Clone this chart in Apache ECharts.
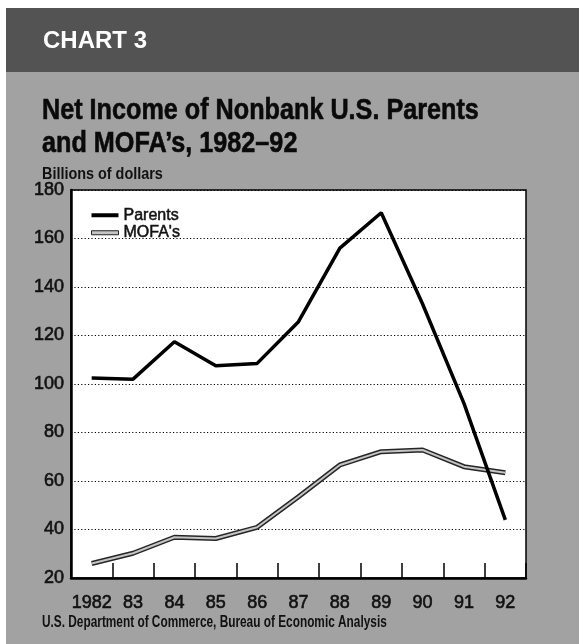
<!DOCTYPE html>
<html>
<head>
<meta charset="utf-8">
<script src="https://cdn.jsdelivr.net/npm/echarts@6/dist/echarts.min.js"></script>
<style>
html,body{margin:0;padding:0;background:#fff;}
#chart{width:579px;height:644px;}
</style>
</head>
<body>
<div id="chart"></div>
<script>
// ---- data ----
var categories = ['1982','83','84','85','86','87','88','89','90','91','92'];
var parents = [102.5, 102, 117.4, 107.5, 108.5, 125.7, 156, 170.6, 133, 92, 44];
var mofas   = [26, 30.2, 36.8, 36.3, 40.9, 53.5, 66.6, 72.1, 72.8, 65.9, 63.4];
var yTicks  = [20, 40, 60, 80, 100, 120, 140, 160, 180];

var FONT = 'Arial, "Liberation Sans", Helvetica, sans-serif';
var chart = echarts.init(document.getElementById('chart'), null, {renderer:'canvas'});

chart.setOption({
  animation: false,
  backgroundColor: '#ffffff',
  graphic: [
    {type:'rect', z:-10, shape:{x:6, y:8, width:573, height:636}, style:{fill:'#a2a2a2'}},
    {type:'rect', z:-9, shape:{x:6, y:8, width:573, height:64}, style:{fill:'#535353'}},
    {type:'text', z:5, x:43, y:41, style:{text:'CHART 3', fill:'#ffffff', font:'bold 24px ' + FONT, verticalAlign:'middle'}},
    {type:'text', z:5, x:42, y:111, scaleX:0.84, style:{text:'Net Income of Nonbank U.S. Parents', fill:'#0a0a0a', font:'bold 30px ' + FONT, verticalAlign:'middle', stroke:'#0a0a0a', lineWidth:0.6}},
    {type:'text', z:5, x:42, y:144, scaleX:0.84, style:{text:'and MOFA\u2019s, 1982\u201392', fill:'#0a0a0a', font:'bold 30px ' + FONT, verticalAlign:'middle', stroke:'#0a0a0a', lineWidth:0.6}},
    {type:'text', z:5, x:42, y:175, scaleX:0.9, style:{text:'Billions of dollars', fill:'#111', font:'bold 16px ' + FONT, verticalAlign:'middle'}},
    {type:'text', z:5, x:42, y:623, scaleX:0.74, style:{text:'U.S. Department of Commerce, Bureau of Economic Analysis', fill:'#111', font:'bold 16px ' + FONT, verticalAlign:'middle'}}
  ],
  grid: {
    left: 71, right: 53, top: 190, bottom: 66,
    show: true, backgroundColor: '#ffffff', borderColor: '#000', borderWidth: 1.5
  },
  legend: {
    orient: 'vertical', left: 86, top: 202, itemGap: 1,
    itemWidth: 27, itemHeight: 4,
    textStyle: {fontFamily: FONT, fontSize: 16, color: '#111', lineHeight: 16, textBorderColor: '#111', textBorderWidth: 0.5},
    data: [
      {name: 'Parents', icon: 'rect', itemStyle: {color: '#000', borderWidth: 0}},
      {name: "MOFA's", icon: 'rect', itemStyle: {color: '#c4c4c4', borderColor: '#222', borderWidth: 1}}
    ]
  },
  xAxis: {
    type: 'category', data: categories, boundaryGap: true,
    axisLine: {lineStyle: {color: '#000', width: 2.5}},
    axisTick: {show: true, inside: true, length: 15, interval: 0, lineStyle: {color: '#000', width: 1.5}},
    axisLabel: {interval: 0, margin: 16, fontFamily: FONT, fontSize: 18, color: '#111', textBorderColor: '#111', textBorderWidth: 0.6},
    splitLine: {show: false}
  },
  yAxis: {
    type: 'value', min: 20, max: 180, interval: 20,
    axisLine: {show: true, lineStyle: {color: '#000', width: 2.5}},
    axisTick: {show: false},
    axisLabel: {margin: 7, fontFamily: FONT, fontSize: 18, color: '#111', textBorderColor: '#111', textBorderWidth: 0.6},
    splitLine: {show: true, lineStyle: {color: '#000', width: 1, type: [1.2, 2.2]}}
  },
  series: [
    {name: "MOFA's", type: 'line', data: mofas, showSymbol: false, symbol: 'none',
     lineStyle: {color: '#262626', width: 5}, itemStyle: {color: '#262626'}, z: 2},
    {name: "MOFA's inner", type: 'line', data: mofas, showSymbol: false, symbol: 'none', silent: true,
     lineStyle: {color: '#c4c4c4', width: 2}, z: 3},
    {name: 'Parents', type: 'line', data: parents, showSymbol: false, symbol: 'none',
     lineStyle: {color: '#000', width: 3.5}, itemStyle: {color: '#000'}, z: 4}
  ]
});
</script>
</body>
</html>
